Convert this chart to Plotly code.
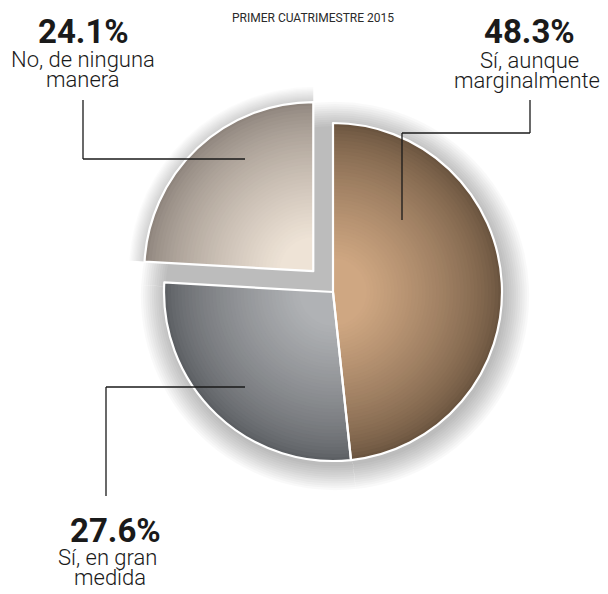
import plotly.graph_objects as go

# ---------------- data ----------------
title_text = "PRIMER CUATRIMESTRE 2015"
values = [48.3, 27.6, 24.1]
label_lines = [["Sí, aunque", "marginalmente"],
               ["Sí, en gran", "medida"],
               ["No, de ninguna", "manera"]]
pulled = [False, False, True]

# ---------------- styles / layout ----------------
W, H = 608, 594
CX, CY, R = 333, 292, 169          # pie centre (px from top-left) and radius
PULL_PX = 28.7                     # pull distance in px
outer_cols = ["#6a543f", "#5c5f63", "#8f857d"]
inner_cols = ["#cfa782", "#b0b2b5", "#eee3d6"]
TXT = "#1a1a1a"
FONT = "Roboto"

# label placement (px): percent centre x, line centres x, baselines
label_pos = [
    dict(px=529, lx=[529, 527], base=[43, 68, 88]),
    dict(px=115, lx=[107, 110], base=[542, 565, 585]),
    dict(px=83, lx=[83, 83], base=[43, 67, 87]),
]
# leader polylines (px) ending at the dot
leaders = [
    [(530, 100), (530, 133), (402, 133), (402, 220)],
    [(106, 496), (106, 387), (245, 387)],
    [(83, 100), (83, 159), (245, 159)],
]


def hex2rgb(h):
    h = h.lstrip("#")
    return tuple(int(h[i:i + 2], 16) for i in (0, 2, 4))


def mix(a, b, t):
    ra, rb = hex2rgb(a), hex2rgb(b)
    return "rgb(%d,%d,%d)" % tuple(round(ra[i] + (rb[i] - ra[i]) * t) for i in range(3))


def domain_for(cx, cy, half):
    return dict(x=[(cx - half) / W, (cx + half) / W],
                y=[(H - cy - half) / H, (H - cy + half) / H])


fig = go.Figure()

n = len(values)

# ---- soft shadow (full disk) ----
NS = 12
for j in range(NS):
    r = R + 1 + j * 2.2
    fig.add_trace(go.Pie(values=values, sort=False, direction="clockwise", rotation=0,
                         marker=dict(colors=["rgba(0,0,0,0.022)"] * n, line=dict(width=0)),
                         textinfo="none", hoverinfo="skip", showlegend=False,
                         domain=domain_for(CX + 2, CY + 4, r)))
# ---- shadow for pulled slice ----
for j in range(NS):
    r = R + 1 + j * 1.3
    p = PULL_PX / r
    fig.add_trace(go.Pie(values=values, sort=False, direction="clockwise", rotation=0,
                         pull=[p if pl else 0 for pl in pulled],
                         marker=dict(colors=["rgba(0,0,0,0.016)" if pl else "rgba(0,0,0,0)" for pl in pulled],
                                     line=dict(width=0)),
                         textinfo="none", hoverinfo="skip", showlegend=False,
                         domain=domain_for(CX, CY, r + PULL_PX)))

# ---- gradient layers ----
NL = 40
for k in range(NL):
    t = k / (NL - 1)
    r = R * (1 - 0.8 * t)
    p = min(PULL_PX / r, 1.0)
    fig.add_trace(go.Pie(values=values, sort=False, direction="clockwise", rotation=0,
                         pull=[p if pl else 0 for pl in pulled],
                         marker=dict(colors=[mix(outer_cols[i], inner_cols[i], t ** 0.75) for i in range(n)],
                                     line=dict(width=0)),
                         textinfo="none", hoverinfo="skip", showlegend=False,
                         domain=domain_for(CX, CY, r * (1 + p))))

# ---- white outline on top ----
p = PULL_PX / R
fig.add_trace(go.Pie(values=values, sort=False, direction="clockwise", rotation=0,
                     pull=[p if pl else 0 for pl in pulled],
                     marker=dict(colors=["rgba(0,0,0,0)"] * n, line=dict(color="white", width=2.2)),
                     textinfo="none", hoverinfo="skip", showlegend=False,
                     domain=domain_for(CX, CY, R + PULL_PX)))

# ---- leader lines + dots ----
for pts in leaders:
    for (x0, y0), (x1, y1) in zip(pts[:-1], pts[1:]):
        fig.add_shape(type="line", xref="x", yref="y", x0=x0, y0=y0, x1=x1, y1=y1,
                      line=dict(color=TXT, width=1.3))
fig.add_trace(go.Scatter(x=[pts[-1][0] for pts in leaders], y=[pts[-1][1] for pts in leaders],
                         mode="markers", hoverinfo="skip", showlegend=False,
                         marker=dict(size=8, color="white", line=dict(color=TXT, width=1.3))))

# ---- labels ----
for i, v in enumerate(values):
    lp = label_pos[i]
    fig.add_annotation(xref="x", yref="y", x=lp["px"], y=lp["base"][0] - 12,
                       text="<b>%.1f%%</b>" % v, showarrow=False, xanchor="center", yanchor="middle",
                       font=dict(family=FONT, size=33, color=TXT))
    for j, line in enumerate(label_lines[i]):
        fig.add_annotation(xref="x", yref="y", x=lp["lx"][j], y=lp["base"][j + 1] - 7.5,
                           text=line, showarrow=False, xanchor="center", yanchor="middle",
                           font=dict(family=FONT, size=22, color=TXT, weight=300))

fig.add_annotation(xref="x", yref="y", x=313, y=18, text=title_text, showarrow=False,
                   xanchor="center", yanchor="middle", font=dict(family=FONT, size=12, color="#2a2a2a"))

fig.update_layout(width=W, height=H, margin=dict(l=0, r=0, t=0, b=0),
                  paper_bgcolor="white", plot_bgcolor="rgba(0,0,0,0)",
                  xaxis=dict(range=[0, W], visible=False, fixedrange=True),
                  yaxis=dict(range=[H, 0], visible=False, fixedrange=True),
                  showlegend=False)

fig.write_html("out.html", config={"displayModeBar": False},
               post_script="document.body.style.margin='0';")
